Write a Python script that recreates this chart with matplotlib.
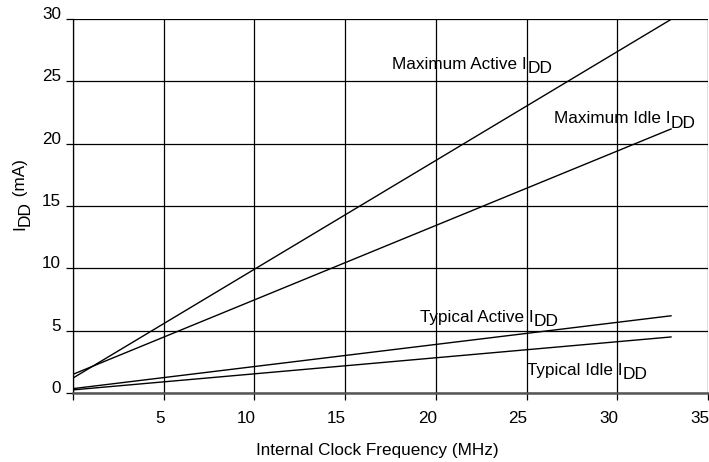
import matplotlib
matplotlib.use("Agg")
import matplotlib.pyplot as plt
from matplotlib.transforms import ScaledTranslation

plt.rcParams['font.family'] = ['Liberation Sans', 'DejaVu Sans']

freq = [0, 33]
max_active = [1.2, 30.0]
max_idle = [1.5, 21.2]
typ_active = [0.35, 6.2]
typ_idle = [0.25, 4.5]

series_names = ["Maximum Active", "Maximum Idle", "Typical Active", "Typical Idle"]
series_vals = [max_active, max_idle, typ_active, typ_idle]
label_pos = [(17.6, 26.0), (26.5, 21.65), (19.1, 5.7), (25.0, 1.45)]

xticks = [0, 5, 10, 15, 20, 25, 30, 35]
xticklabels = ["", "5", "10", "15", "20", "25", "30", "35"]
yticks = [0, 5, 10, 15, 20, 25, 30]

FS = 12.3
SUB = 12.5

fig = plt.figure(figsize=(7.09, 4.62), dpi=100)
ax = fig.add_axes([73/709, 69/462, 635/709, 374/462])

for vals in series_vals:
    ax.plot(freq, vals, color='black', lw=1.0, solid_capstyle='butt')

for name, (x, y) in zip(series_names, label_pos):
    t = ax.text(x, y, name + " I", fontsize=FS, ha='left', va='baseline')
    ax.annotate("DD", xy=(1, 0), xycoords=t, xytext=(0.2, -3.2),
                textcoords='offset points', fontsize=SUB, ha='left', va='bottom')

ax.set_xlim(0, 35)
ax.set_ylim(0, 30)
ax.set_xticks(xticks)
ax.set_xticklabels(xticklabels, ha='right')
ax.set_yticks(yticks)
ax.grid(True, color='black', lw=0.9)
ax.set_axisbelow(True)
for s in ['top', 'right']:
    ax.spines[s].set_visible(False)
ax.spines['left'].set_linewidth(0.9)
ax.spines['bottom'].set_color('#555555')
ax.spines['bottom'].set_linewidth(1.8)
ax.tick_params(axis='both', length=5, width=0.9, color='black', labelsize=FS)
ax.tick_params(axis='x', pad=8)
ax.tick_params(axis='y', pad=3.5)

dx = ScaledTranslation(1/100, 0, fig.dpi_scale_trans)
for lbl in ax.get_xticklabels():
    lbl.set_transform(lbl.get_transform() + dx)
dy = ScaledTranslation(0, 6/100, fig.dpi_scale_trans)
for lbl in ax.get_yticklabels():
    lbl.set_transform(lbl.get_transform() + dy)

fig.text(377/709, (462 - 455)/462, "Internal Clock Frequency (MHz)",
         fontsize=FS, ha='center', va='baseline')

# y label with enlarged subscript
yl = fig.text(20/709, 1 - 230/462, "I", fontsize=FS, rotation=90,
              ha='center', va='bottom')
dd = ax.annotate("DD", xy=(0, 1), xycoords=yl, xytext=(3.6, -0.6),
                 textcoords='offset points', fontsize=SUB, rotation=90,
                 ha='left', va='bottom', annotation_clip=False)
ax.annotate(" (mA)", xy=(0, 1), xycoords=(yl, dd), xytext=(0, 0),
            textcoords='offset points', fontsize=FS, rotation=90,
            ha='left', va='bottom', annotation_clip=False)

fig.savefig("out.png", dpi=100)
